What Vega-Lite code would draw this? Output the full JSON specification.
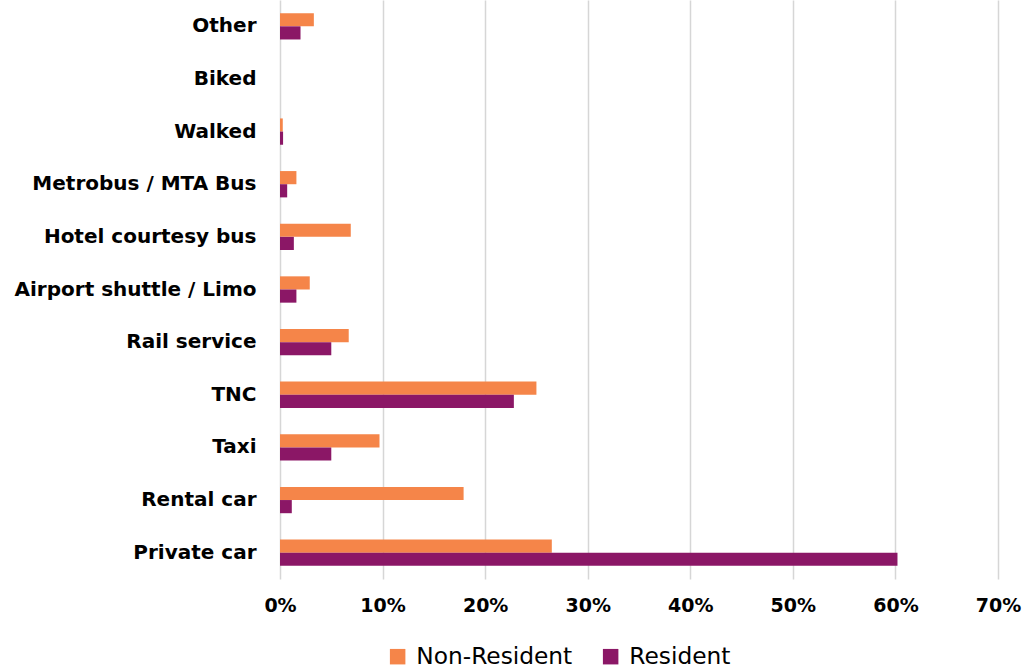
{
  "$schema": "https://vega.github.io/schema/vega-lite/v6.json",
  "width": 718,
  "height": 579,
  "autosize": {"type": "none"},
  "padding": {"left": 280, "top": 0, "right": 28, "bottom": 92},
  "background": "white",
  "config": {
    "view": {"stroke": null},
    "font": "DejaVu Sans"
  },
  "data": {
    "values": [
      {"mode": "Other", "series": "Non-Resident", "share": 0.033},
      {"mode": "Other", "series": "Resident", "share": 0.020},
      {"mode": "Biked", "series": "Non-Resident", "share": 0.0},
      {"mode": "Biked", "series": "Resident", "share": 0.0},
      {"mode": "Walked", "series": "Non-Resident", "share": 0.0027},
      {"mode": "Walked", "series": "Resident", "share": 0.003},
      {"mode": "Metrobus / MTA Bus", "series": "Non-Resident", "share": 0.016},
      {"mode": "Metrobus / MTA Bus", "series": "Resident", "share": 0.007},
      {"mode": "Hotel courtesy bus", "series": "Non-Resident", "share": 0.069},
      {"mode": "Hotel courtesy bus", "series": "Resident", "share": 0.0135},
      {"mode": "Airport shuttle / Limo", "series": "Non-Resident", "share": 0.029},
      {"mode": "Airport shuttle / Limo", "series": "Resident", "share": 0.016},
      {"mode": "Rail service", "series": "Non-Resident", "share": 0.067},
      {"mode": "Rail service", "series": "Resident", "share": 0.050},
      {"mode": "TNC", "series": "Non-Resident", "share": 0.250},
      {"mode": "TNC", "series": "Resident", "share": 0.228},
      {"mode": "Taxi", "series": "Non-Resident", "share": 0.097},
      {"mode": "Taxi", "series": "Resident", "share": 0.050},
      {"mode": "Rental car", "series": "Non-Resident", "share": 0.179},
      {"mode": "Rental car", "series": "Resident", "share": 0.0115},
      {"mode": "Private car", "series": "Non-Resident", "share": 0.265},
      {"mode": "Private car", "series": "Resident", "share": 0.602}
    ]
  },
  "mark": {"type": "bar"},
  "encoding": {
    "y": {
      "field": "mode",
      "type": "nominal",
      "sort": ["Other", "Biked", "Walked", "Metrobus / MTA Bus", "Hotel courtesy bus", "Airport shuttle / Limo", "Rail service", "TNC", "Taxi", "Rental car", "Private car"],
      "scale": {"paddingInner": 0.5, "paddingOuter": 0.25},
      "axis": {
        "title": null,
        "domain": false,
        "ticks": false,
        "labelPadding": 24,
        "labelFontSize": 20,
        "labelFontWeight": "bold",
        "labelColor": "#000000",
        "labelLimit": 400
      }
    },
    "yOffset": {
      "field": "series",
      "type": "nominal",
      "sort": ["Non-Resident", "Resident"],
      "scale": {"paddingInner": 0, "paddingOuter": 0}
    },
    "x": {
      "field": "share",
      "type": "quantitative",
      "scale": {"domain": [0, 0.7], "nice": false},
      "axis": {
        "title": null,
        "format": ".0%",
        "values": [0, 0.1, 0.2, 0.3, 0.4, 0.5, 0.6, 0.7],
        "domain": false,
        "ticks": false,
        "grid": true,
        "gridColor": "#d6d6d6",
        "gridWidth": 1.5,
        "labelPadding": 17,
        "labelFontSize": 19,
        "labelFontWeight": "bold",
        "labelColor": "#000000",
        "labelFlush": false
      }
    },
    "color": {
      "field": "series",
      "type": "nominal",
      "sort": ["Non-Resident", "Resident"],
      "scale": {"domain": ["Non-Resident", "Resident"], "range": ["#F58549", "#8B1766"]},
      "legend": {
        "title": null,
        "orient": "none",
        "direction": "horizontal",
        "legendX": 106,
        "legendY": 645,
        "symbolType": "square",
        "symbolSize": 240,
        "symbolStrokeWidth": 0,
        "labelFontSize": 23.3,
        "labelColor": "#000000",
        "labelOffset": 7,
        "columnPadding": 26,
        "labelLimit": 400
      }
    }
  }
}
